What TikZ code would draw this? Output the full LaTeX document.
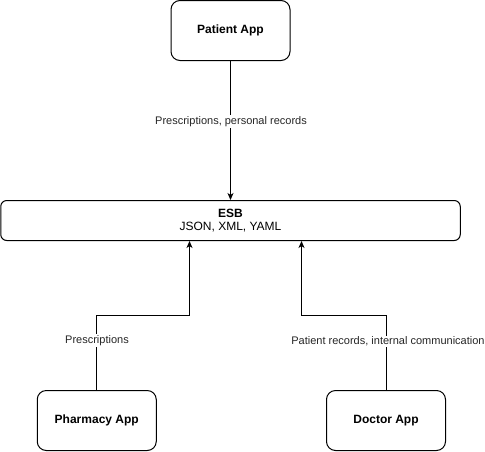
\documentclass[tikz,border=0pt]{standalone}
\usepackage{fontspec}
\setmainfont{Liberation Sans}
\usetikzlibrary{arrows.meta,positioning}
\begin{document}
\begin{tikzpicture}[x=1pt,y=-1pt,
  app/.style={draw=black,line width=1pt,rounded corners=9pt,minimum width=119pt,minimum height=60pt,inner sep=0pt,font=\fontsize{12}{14}\selectfont\bfseries,fill=white},
  conn/.style={draw=black,line width=1pt,-{Stealth[length=7pt,width=6pt,inset=2pt]}},
  lbl/.style={fill=white,inner sep=1pt,font=\fontsize{11}{13}\selectfont,text=black!85}]
\useasboundingbox (0,0) rectangle (485,451);
\node[app] (patient) at (230.5,30.5) {Patient App};
\node[draw=black,line width=1pt,rounded corners=6pt,minimum width=459.5pt,minimum height=40pt,inner sep=0pt,align=center,fill=white] (esb) at (230.5,220.5)
  {{\fontsize{12}{14}\selectfont\bfseries ESB}\\[1pt]{\fontsize{12}{14}\selectfont JSON, XML, YAML}};
\node[app] (pharmacy) at (96.75,420.5) {Pharmacy App};
\node[app] (doctor) at (386,420.5) {Doctor App};
\coordinate (pa) at (96.75,315.5);
\coordinate (pb) at (189.5,315.5);
\coordinate (da) at (386,315.5);
\coordinate (db) at (301.5,315.5);
\draw[conn] (patient.south) -- (esb.north);
\draw[conn] (pharmacy.north) -- (pa) -- (pb) -- (pb |- esb.south);
\draw[conn] (doctor.north) -- (da) -- (db) -- (db |- esb.south);
\node[lbl] (l1) at (231,121.5) {Prescriptions, personal records};
\node[lbl] (l2) at (97,340.5) {Prescriptions};
\node[lbl] (l3) at (388,341.5) {Patient records, internal communication};
\end{tikzpicture}
\end{document}
